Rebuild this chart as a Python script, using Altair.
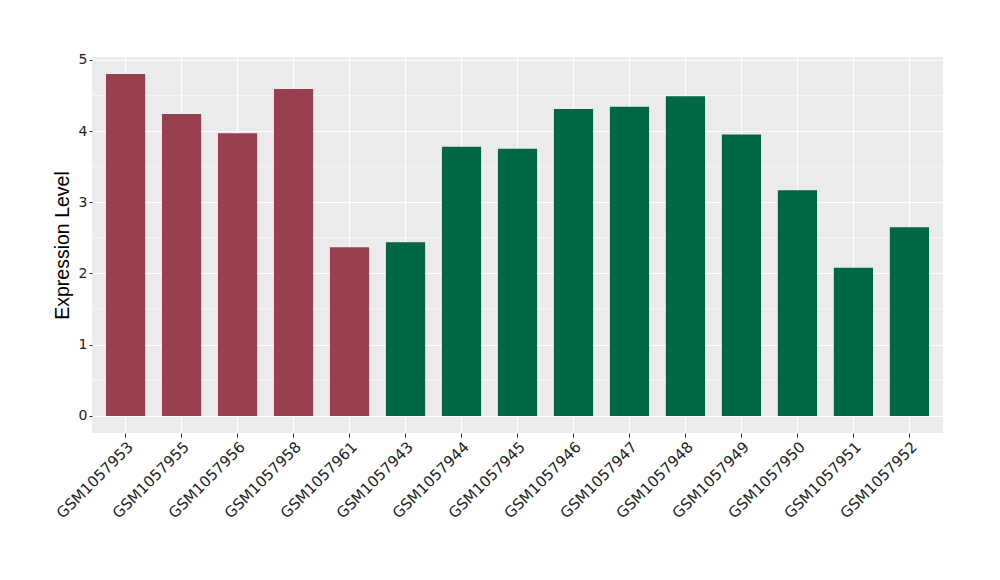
import altair as alt
import pandas as pd

samples = ["GSM1057953", "GSM1057955", "GSM1057956", "GSM1057958", "GSM1057961",
           "GSM1057943", "GSM1057944", "GSM1057945", "GSM1057946", "GSM1057947",
           "GSM1057948", "GSM1057949", "GSM1057950", "GSM1057951", "GSM1057952"]
values = [4.80, 4.24, 3.97, 4.59, 2.37,
          2.44, 3.78, 3.75, 4.31, 4.34,
          4.49, 3.95, 3.17, 2.08, 2.65]
groups = ["A"] * 5 + ["B"] * 10
group_names = ["A", "B"]
group_colors = ["#99404F", "#006644"]
major_ticks = [0, 1, 2, 3, 4, 5]
minor_ticks = [0.5, 1.5, 2.5, 3.5, 4.5]

df = pd.DataFrame({"sample": samples, "value": values, "group": groups})
minor_df = pd.DataFrame({"value": minor_ticks})

x_scale = alt.Scale(domain=samples, paddingInner=0.3, paddingOuter=0.25)
y_scale = alt.Scale(domain=[-0.24, 5.04], nice=False, zero=False)

TITLE_FONT = "Liberation Sans"
LABEL_FONT = "DejaVu Sans"

x_axis = alt.Axis(title=None, labelAngle=-45, labelAlign="right",
                  labelBaseline="top", labelFontSize=15, labelColor="#222222",
                  labelFont=LABEL_FONT, tickColor="#333333", tickSize=4,
                  labelPadding=2, domain=False, grid=False)
y_axis = alt.Axis(title="Expression Level", values=major_ticks, format="d",
                  titleFontSize=19.5, titleFont=TITLE_FONT, titleFontWeight="normal",
                  titleColor="black", titlePadding=6,
                  labelFontSize=14, labelColor="#222222", labelFont=LABEL_FONT,
                  tickColor="#333333", tickSize=3, labelPadding=2,
                  domain=False, grid=True, gridColor="white", gridWidth=1.1)

minor_grid = alt.Chart(minor_df).mark_rule(color="white", strokeWidth=0.55).encode(
    y=alt.Y("value:Q", scale=y_scale, axis=y_axis)
)

vgrid = alt.Chart(df).mark_rule(color="white", strokeWidth=1.1).encode(
    x=alt.X("sample:N", scale=x_scale, sort=samples, axis=x_axis)
)

bars = alt.Chart(df).mark_bar().encode(
    x=alt.X("sample:N", scale=x_scale, sort=samples, axis=x_axis),
    y=alt.Y("value:Q", scale=y_scale, axis=y_axis),
    y2=alt.datum(0),
    color=alt.Color("group:N", scale=alt.Scale(domain=group_names, range=group_colors),
                    legend=None),
)

chart = alt.layer(minor_grid, vgrid, bars).properties(
    width=851, height=376,
    autosize=alt.AutoSizeParams(type="none"),
    padding={"left": 84, "top": 49, "right": 49, "bottom": 139},
).configure_view(fill="#EBEBEB", stroke=None)

chart.save("out.html", embed_options={"renderer": "svg", "actions": False})
